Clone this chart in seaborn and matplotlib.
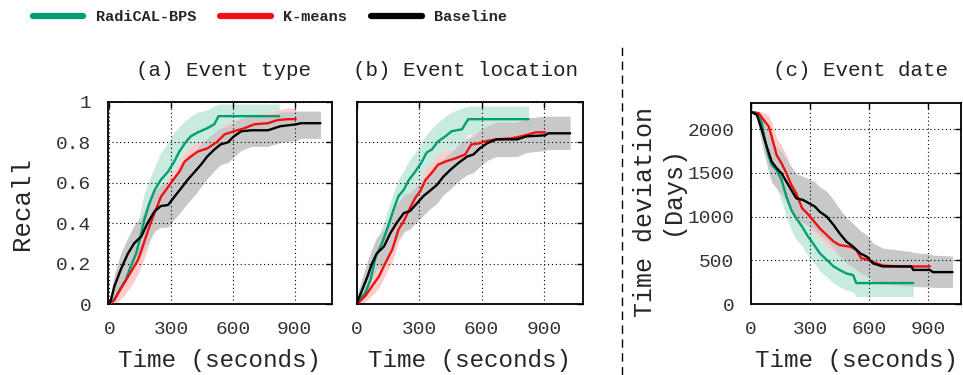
import matplotlib
matplotlib.use('Agg')
import matplotlib.pyplot as plt
import seaborn as sns
from matplotlib.lines import Line2D

# ---- (a) Event type : recall over time ----
a_green_t = [0, 20, 35, 55, 80, 105, 130, 150, 170, 195, 220, 250, 285, 315, 340, 370, 395, 430, 475, 510, 530, 825]
a_green_m = [0, 0.02, 0.04, 0.08, 0.12, 0.19, 0.25, 0.33, 0.42, 0.50, 0.565, 0.615, 0.655, 0.705, 0.755, 0.80, 0.83, 0.85, 0.87, 0.89, 0.93, 0.93]
a_green_hi = [0, 0.05, 0.09, 0.15, 0.22, 0.29, 0.38, 0.46, 0.55, 0.62, 0.68, 0.75, 0.80, 0.85, 0.88, 0.91, 0.93, 0.95, 0.96, 0.98, 0.99, 0.99]
a_green_lo = [0, 0.0, 0.01, 0.03, 0.06, 0.11, 0.17, 0.24, 0.31, 0.39, 0.46, 0.52, 0.56, 0.61, 0.65, 0.70, 0.74, 0.77, 0.80, 0.82, 0.86, 0.86]

a_red_t = [0, 25, 40, 70, 105, 140, 170, 200, 225, 250, 275, 310, 340, 365, 395, 430, 475, 520, 560, 605, 655, 705, 770, 815, 865, 905]
a_red_m = [0, 0.02, 0.05, 0.10, 0.16, 0.22, 0.31, 0.40, 0.465, 0.53, 0.565, 0.615, 0.655, 0.705, 0.73, 0.755, 0.77, 0.80, 0.84, 0.855, 0.87, 0.89, 0.895, 0.91, 0.915, 0.915]
a_red_hi = [0, 0.05, 0.09, 0.15, 0.21, 0.28, 0.37, 0.46, 0.52, 0.58, 0.61, 0.66, 0.70, 0.75, 0.78, 0.80, 0.82, 0.85, 0.89, 0.91, 0.92, 0.94, 0.95, 0.96, 0.97, 0.97]
a_red_lo = [0, 0.0, 0.01, 0.04, 0.09, 0.15, 0.23, 0.32, 0.39, 0.46, 0.50, 0.55, 0.59, 0.64, 0.67, 0.70, 0.71, 0.74, 0.78, 0.80, 0.81, 0.83, 0.84, 0.85, 0.86, 0.86]

a_black_t = [0, 10, 25, 55, 90, 120, 155, 185, 220, 250, 285, 315, 350, 380, 415, 445, 475, 510, 540, 575, 605, 640, 690, 770, 800, 830, 910, 930, 1025]
a_black_m = [0, 0.03, 0.09, 0.17, 0.25, 0.30, 0.335, 0.40, 0.46, 0.485, 0.49, 0.53, 0.575, 0.615, 0.655, 0.69, 0.73, 0.765, 0.79, 0.80, 0.83, 0.855, 0.86, 0.86, 0.87, 0.88, 0.89, 0.895, 0.895]
a_black_hi = [0, 0.07, 0.15, 0.25, 0.33, 0.39, 0.43, 0.50, 0.56, 0.59, 0.60, 0.64, 0.68, 0.72, 0.76, 0.79, 0.82, 0.85, 0.87, 0.88, 0.90, 0.92, 0.93, 0.93, 0.94, 0.95, 0.955, 0.955, 0.955]
a_black_lo = [0, 0.0, 0.03, 0.09, 0.16, 0.21, 0.24, 0.30, 0.36, 0.38, 0.38, 0.42, 0.46, 0.50, 0.54, 0.58, 0.62, 0.66, 0.69, 0.70, 0.73, 0.76, 0.78, 0.78, 0.79, 0.80, 0.81, 0.82, 0.82]

# ---- (b) Event location : recall over time ----
b_green_t = [0, 10, 40, 65, 90, 120, 150, 175, 200, 225, 250, 280, 310, 335, 360, 390, 425, 455, 505, 535, 825]
b_green_m = [0, 0.02, 0.055, 0.12, 0.235, 0.30, 0.385, 0.465, 0.535, 0.565, 0.615, 0.655, 0.70, 0.75, 0.765, 0.805, 0.83, 0.855, 0.865, 0.915, 0.915]
b_green_hi = [0, 0.05, 0.10, 0.18, 0.30, 0.38, 0.47, 0.55, 0.62, 0.66, 0.71, 0.75, 0.80, 0.84, 0.87, 0.90, 0.93, 0.95, 0.97, 0.98, 0.98]
b_green_lo = [0, 0.0, 0.02, 0.07, 0.17, 0.22, 0.30, 0.38, 0.45, 0.47, 0.52, 0.56, 0.60, 0.66, 0.67, 0.71, 0.74, 0.77, 0.78, 0.84, 0.84]

b_red_t = [0, 10, 40, 70, 105, 135, 170, 200, 225, 255, 280, 305, 330, 360, 390, 425, 470, 520, 550, 585, 615, 665, 745, 810, 860, 905]
b_red_m = [0, 0.01, 0.04, 0.085, 0.135, 0.20, 0.27, 0.37, 0.41, 0.475, 0.525, 0.56, 0.615, 0.65, 0.69, 0.705, 0.72, 0.74, 0.79, 0.795, 0.805, 0.815, 0.82, 0.835, 0.85, 0.85]
b_red_hi = [0, 0.04, 0.08, 0.13, 0.18, 0.25, 0.32, 0.42, 0.46, 0.53, 0.58, 0.61, 0.67, 0.70, 0.74, 0.76, 0.77, 0.79, 0.84, 0.85, 0.86, 0.87, 0.88, 0.89, 0.91, 0.91]
b_red_lo = [0, 0.0, 0.01, 0.04, 0.08, 0.14, 0.21, 0.31, 0.35, 0.41, 0.46, 0.50, 0.55, 0.59, 0.63, 0.64, 0.66, 0.68, 0.73, 0.74, 0.75, 0.76, 0.76, 0.78, 0.79, 0.79]

b_black_t = [0, 5, 25, 50, 70, 95, 130, 160, 190, 225, 255, 290, 320, 350, 385, 415, 450, 490, 530, 560, 590, 625, 670, 770, 815, 905, 920, 1025]
b_black_m = [0, 0.02, 0.07, 0.135, 0.195, 0.25, 0.285, 0.35, 0.40, 0.45, 0.46, 0.50, 0.535, 0.56, 0.59, 0.63, 0.665, 0.70, 0.73, 0.74, 0.77, 0.795, 0.815, 0.815, 0.83, 0.835, 0.845, 0.845]
b_black_hi = [0, 0.06, 0.13, 0.21, 0.27, 0.33, 0.37, 0.44, 0.49, 0.54, 0.55, 0.59, 0.62, 0.65, 0.68, 0.72, 0.75, 0.79, 0.82, 0.83, 0.86, 0.88, 0.90, 0.90, 0.92, 0.93, 0.93, 0.93]
b_black_lo = [0, 0.0, 0.02, 0.07, 0.12, 0.17, 0.20, 0.26, 0.31, 0.36, 0.37, 0.41, 0.44, 0.47, 0.50, 0.54, 0.57, 0.61, 0.64, 0.65, 0.68, 0.71, 0.73, 0.73, 0.75, 0.76, 0.765, 0.765]

# ---- (c) Event date : time deviation (days) over time ----
c_green_t = [0, 40, 55, 70, 90, 105, 130, 155, 180, 205, 230, 260, 285, 315, 350, 385, 420, 450, 485, 520, 535, 825]
c_green_m = [2200, 2180, 2070, 1880, 1690, 1590, 1535, 1420, 1230, 1075, 980, 885, 790, 695, 580, 505, 430, 390, 350, 330, 240, 240]
c_green_hi = [2200, 2200, 2170, 2020, 1880, 1800, 1750, 1650, 1470, 1310, 1220, 1110, 1010, 910, 790, 710, 630, 590, 545, 525, 400, 400]
c_green_lo = [2200, 2150, 1960, 1740, 1500, 1390, 1320, 1180, 990, 840, 740, 660, 570, 490, 380, 310, 240, 200, 160, 140, 85, 85]

c_red_t = [0, 40, 65, 90, 105, 130, 155, 180, 205, 230, 260, 285, 315, 350, 385, 420, 450, 505, 535, 560, 595, 640, 670, 760, 910]
c_red_m = [2200, 2180, 2105, 2030, 1915, 1705, 1610, 1495, 1365, 1265, 1095, 1040, 960, 865, 790, 715, 675, 655, 620, 525, 505, 465, 440, 430, 430]
c_red_hi = [2200, 2210, 2190, 2160, 2080, 1900, 1810, 1700, 1560, 1440, 1250, 1180, 1090, 990, 910, 830, 790, 770, 730, 640, 620, 590, 580, 580, 580]
c_red_lo = [2200, 2140, 2020, 1920, 1780, 1560, 1460, 1340, 1210, 1110, 950, 900, 830, 740, 670, 600, 560, 540, 500, 410, 390, 350, 330, 320, 320]

c_black_t = [0, 30, 55, 80, 105, 130, 155, 180, 205, 230, 265, 325, 350, 385, 420, 450, 485, 520, 555, 590, 620, 670, 815, 825, 910, 925, 1025]
c_black_m = [2200, 2165, 1990, 1800, 1630, 1555, 1495, 1400, 1305, 1210, 1190, 1115, 1055, 1000, 905, 810, 715, 655, 580, 540, 465, 430, 430, 390, 390, 365, 365]
c_black_hi = [2200, 2200, 2150, 2000, 1870, 1800, 1740, 1660, 1570, 1490, 1460, 1400, 1340, 1290, 1190, 1090, 990, 920, 840, 790, 700, 640, 600, 590, 570, 560, 550]
c_black_lo = [2200, 2120, 1830, 1600, 1400, 1320, 1260, 1160, 1060, 960, 930, 850, 790, 730, 640, 550, 470, 420, 360, 320, 260, 230, 205, 200, 195, 190, 190]

methods = ['RadiCAL-BPS', 'K-means', 'Baseline']
line_colors = ['#009e73', '#f01010', '#000000']
band_colors = ['#c9eadf', '#ffcccc', '#c8c8c8']
time_ticks = [0, 300, 600, 900]
recall_ticks = [0, 0.2, 0.4, 0.6, 0.8, 1]
recall_labels = ['0', '0.2', '0.4', '0.6', '0.8', '1']
days_ticks = [0, 500, 1000, 1500, 2000]
titles = ['(a) Event type', '(b) Event location', '(c) Event date']

sns.set_style('white')
plt.rcParams['font.family'] = ['Liberation Mono', 'DejaVu Sans Mono']

fig = plt.figure(figsize=(9.63, 3.75), dpi=100)
ax_a = fig.add_axes([0.1121, 0.1893, 0.2326, 0.5387])
ax_b = fig.add_axes([0.3707, 0.1893, 0.2347, 0.5387])
ax_c = fig.add_axes([0.7799, 0.1893, 0.2180, 0.5360])

panels = [
    (ax_a, [(a_green_t, a_green_m, a_green_lo, a_green_hi),
            (a_red_t, a_red_m, a_red_lo, a_red_hi),
            (a_black_t, a_black_m, a_black_lo, a_black_hi)]),
    (ax_b, [(b_green_t, b_green_m, b_green_lo, b_green_hi),
            (b_red_t, b_red_m, b_red_lo, b_red_hi),
            (b_black_t, b_black_m, b_black_lo, b_black_hi)]),
    (ax_c, [(c_green_t, c_green_m, c_green_lo, c_green_hi),
            (c_red_t, c_red_m, c_red_lo, c_red_hi),
            (c_black_t, c_black_m, c_black_lo, c_black_hi)]),
]

for ax, series in panels:
    # bands first, lines on top
    for (t, m, lo, hi), bc in zip(series, band_colors):
        ax.fill_between(t, lo, hi, color=bc, linewidth=0, zorder=1)
    for (t, m, lo, hi), lc in zip(series, line_colors):
        sns.lineplot(x=t, y=m, ax=ax, color=lc, linewidth=1.7, zorder=3, legend=False)
    ax.set_xticks(time_ticks)
    ax.grid(True, color='black', linestyle=(0, (1, 2.5)), linewidth=0.8, zorder=2)
    ax.tick_params(direction='in', length=4, width=1, labelsize=14, pad=12,
                   top=True, right=True, colors='black', labelcolor='#333333')
    for s in ax.spines.values():
        s.set_color('black')
        s.set_linewidth(1.3)
    ax.set_xlabel('Time (seconds)', fontsize=17.5, labelpad=8)
    ax.set_ylabel('')
    ax.set_axisbelow(False)

ax_a.set_xlim(-7, 1081)
ax_b.set_xlim(0, 1087)
ax_c.set_xlim(0, 1068)
for ax in (ax_a, ax_b):
    ax.set_ylim(0, 1)
    ax.set_yticks(recall_ticks)
ax_a.set_yticklabels(recall_labels)
ax_b.set_yticklabels([])
ax_c.set_ylim(0, 2300)
ax_c.set_yticks(days_ticks)

ax_a.set_ylabel('Recall', fontsize=18.5, labelpad=16)

# two-line y label for panel (c)
fig.text(645 / 963, 1 - 212 / 375, 'Time deviation', rotation=90, fontsize=18,
         ha='center', va='center')
fig.text(672 / 963, 1 - 190 / 375, '(Days)', rotation=90, fontsize=18,
         ha='center', va='center')

# panel titles
for x_px, title in zip([223, 465, 860], titles):
    fig.text(x_px / 963, 1 - 70 / 375, title, fontsize=15, ha='center', va='center',
             color='#222222')

# dashed separator between recall panels and date panel
fig.add_artist(Line2D([622 / 963, 622 / 963], [0, 1 - 45 / 375], color='black',
                      linewidth=1, linestyle=(0, (6, 4))))

handles = [Line2D([0], [0], color=c, linewidth=4.5, solid_capstyle='round') for c in line_colors]
fig.legend(handles, methods, loc='center', bbox_to_anchor=(270 / 963, 1 - 17 / 375),
           ncol=3, frameon=False, handlelength=3.3, handletextpad=0.8, columnspacing=1.6,
           prop={'family': 'Liberation Mono', 'weight': 'bold', 'size': 11})

fig.savefig('out.png', dpi=100)
